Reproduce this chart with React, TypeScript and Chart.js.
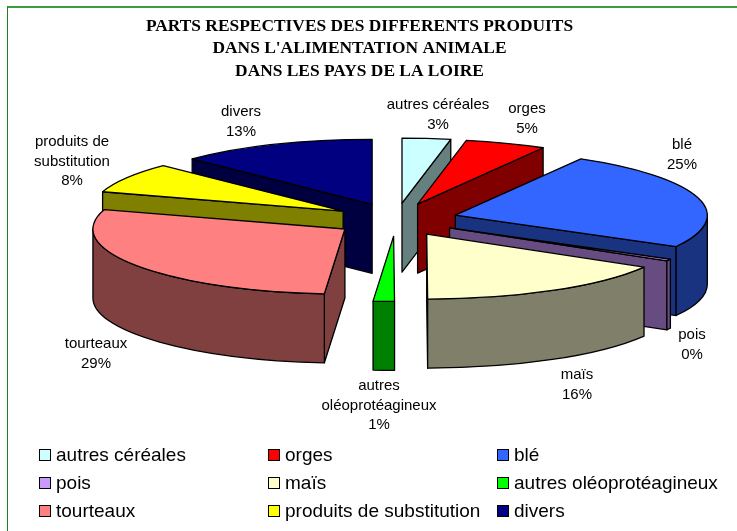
import React, { useEffect, useRef } from "react";
import { Chart, registerables } from "chart.js";

Chart.register(...registerables);

const titleLines = [
  "PARTS RESPECTIVES DES DIFFERENTS PRODUITS",
  "DANS L'ALIMENTATION ANIMALE",
  "DANS LES PAYS DE LA LOIRE",
];
const categories = [
  "autres céréales",
  "orges",
  "blé",
  "pois",
  "maïs",
  "autres oléoprotéagineux",
  "tourteaux",
  "produits de substitution",
  "divers",
];
const shares = [3.1, 5.2, 24.7, 0.45, 16.49, 1.36, 28.52, 7.52, 12.66];
const colours = ["#CCFFFF", "#FF0000", "#3366FF", "#CC99FF", "#FFFFCC", "#00FF00", "#FF8080", "#FFFF00", "#000080"];
const wallColours = ["#667F7F", "#800000", "#1A3380", "#664C80", "#80806A", "#008000", "#804040", "#808000", "#000040"];
const wrappedNames = [
  ["autres céréales"],
  ["orges"],
  ["blé"],
  ["pois"],
  ["maïs"],
  ["autres", "oléoprotéagineux"],
  ["tourteaux"],
  ["produits de", "substitution"],
  ["divers"],
];
// centre x and first-line centre y of every slice caption
const captionX = [438, 527, 682, 692, 577, 379, 96, 72, 241];
const captionY = [105, 109, 145, 335, 375, 386, 344, 142, 112];

const VIEW = { cx: 396, cy: 219.7, squash: 0.258, explodeSquash: 0.27, depth: 69, explode: 61.6, radius: 252 };
const LEGEND = { columns: [39, 268, 497], rows: [455, 483, 511], box: 12, textGap: 5, font: '19px "Liberation Sans"' };

const piePlugin = {
  id: "pie3d",
  beforeDatasetDraw(chart: any) {
    const ctx = chart.ctx;
    const { cx, cy, squash, explodeSquash, depth, explode } = VIEW;
    const arcs = chart.getDatasetMeta(0).data as any[];
    const items = arcs.map((arc, i) => {
      const mid = (arc.startAngle + arc.endAngle) / 2;
      return {
        arc,
        i,
        sx: cx + Math.cos(mid) * explode,
        sy: cy + Math.sin(mid) * explode * explodeSquash,
      };
    });
    items.sort((a, b) => a.sy - b.sy);
    ctx.save();
    ctx.lineJoin = "round";
    ctx.lineWidth = 1.3;
    ctx.strokeStyle = "#000";
    for (const { arc, i, sx, sy } of items) {
      const r = arc.outerRadius;
      const px = (a: number) => sx + r * Math.cos(a);
      const py = (a: number) => sy + r * squash * Math.sin(a);
      const wall = (a: number) => {
        ctx.beginPath();
        ctx.moveTo(sx, sy);
        ctx.lineTo(px(a), py(a));
        ctx.lineTo(px(a), py(a) + depth);
        ctx.lineTo(sx, sy + depth);
        ctx.closePath();
        ctx.fillStyle = wallColours[i];
        ctx.fill();
        ctx.stroke();
      };
      if (-Math.cos(arc.startAngle) > 1e-6) wall(arc.startAngle);
      if (Math.cos(arc.endAngle) > 1e-6) wall(arc.endAngle);
      // outer rim: the part of the slice's arc on the viewer's side
      const from = Math.max(arc.startAngle, 0);
      const to = Math.min(arc.endAngle, Math.PI);
      if (to > from) {
        ctx.beginPath();
        ctx.ellipse(sx, sy, r, r * squash, 0, from, to);
        ctx.lineTo(px(to), py(to) + depth);
        ctx.ellipse(sx, sy + depth, r, r * squash, 0, to, from, true);
        ctx.closePath();
        ctx.fillStyle = wallColours[i];
        ctx.fill();
        ctx.stroke();
      }
      // top face, filled by the library's own arc element
      ctx.save();
      ctx.translate(sx, sy);
      ctx.scale(1, squash);
      ctx.translate(-arc.x, -arc.y);
      arc.draw(ctx);
      ctx.restore();
      ctx.beginPath();
      ctx.moveTo(sx, sy);
      ctx.lineTo(px(arc.startAngle), py(arc.startAngle));
      ctx.ellipse(sx, sy, r, r * squash, 0, arc.startAngle, arc.endAngle);
      ctx.closePath();
      ctx.stroke();
    }
    ctx.restore();
    return false;
  },
  afterDraw(chart: any) {
    const ctx = chart.ctx;
    const total = shares.reduce((a, b) => a + b, 0);
    ctx.save();
    ctx.fillStyle = "#000";
    ctx.textBaseline = "middle";
    ctx.textAlign = "center";
    ctx.font = '15px "Liberation Sans"';
    categories.forEach((_, i) => {
      const lines = [...wrappedNames[i], Math.round((shares[i] / total) * 100) + "%"];
      lines.forEach((t, k) => ctx.fillText(t, captionX[i], captionY[i] + k * 19.5));
    });
    ctx.textAlign = "left";
    ctx.font = LEGEND.font;
    categories.forEach((name, i) => {
      const x = LEGEND.columns[i % 3];
      const y = LEGEND.rows[Math.floor(i / 3)];
      ctx.fillStyle = colours[i];
      ctx.fillRect(x, y - LEGEND.box / 2, LEGEND.box, LEGEND.box);
      ctx.strokeStyle = "#000";
      ctx.lineWidth = 1;
      ctx.strokeRect(x + 0.5, y - LEGEND.box / 2 + 0.5, LEGEND.box - 1, LEGEND.box - 1);
      ctx.fillStyle = "#000";
      ctx.fillText(name, x + LEGEND.box + LEGEND.textGap, y + 1);
    });
    ctx.restore();
  },
};

export default function App() {
  const ref = useRef<HTMLCanvasElement>(null);
  useEffect(() => {
    const chart = new Chart(ref.current as HTMLCanvasElement, {
      type: "pie",
      data: {
        labels: categories,
        datasets: [
          {
            data: shares,
            backgroundColor: colours,
            borderWidth: 0,
            radius: VIEW.radius,
          } as any,
        ],
      },
      options: {
        responsive: false,
        animation: false,
        devicePixelRatio: 1,
        events: [],
        layout: { padding: { right: 18, top: 0 } },
        plugins: {
          legend: { display: false },
          tooltip: { enabled: false },
          title: {
            display: true,
            text: titleLines,
            color: "#000",
            font: { family: '"Liberation Serif"', size: 17.4, weight: "bold", lineHeight: 1.29 },
            padding: { top: 15, bottom: 0 },
          },
        },
      },
      plugins: [piePlugin as any],
    });
    return () => chart.destroy();
  }, []);
  return (
    <div style={{ position: "absolute", left: 0, top: 0, width: 737, height: 531, background: "#fff", overflow: "hidden" }}>
      <canvas ref={ref} width={737} height={531} style={{ position: "absolute", left: 0, top: 0, display: "block" }} />
      <div
        style={{
          position: "absolute",
          left: 7,
          top: 6,
          width: 740,
          height: 540,
          borderLeft: "1px solid #1E7D1E",
          borderTop: "2px solid #3E9B3E",
        }}
      />
    </div>
  );
}
